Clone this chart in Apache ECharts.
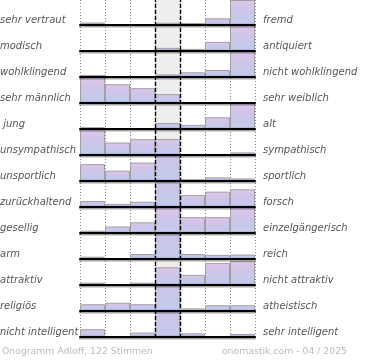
<!DOCTYPE html>
<html>
<head>
<meta charset="utf-8">
<script src="https://cdn.jsdelivr.net/npm/echarts@6/dist/echarts.min.js"></script>
<style>
html,body{margin:0;padding:0;background:#fff;}
#chart{width:370px;height:360px;}
</style>
</head>
<body>
<div id="chart"></div>
<script>
// ---- data ----
const leftLabels = ['sehr vertraut','modisch','wohlklingend','sehr männlich',' jung','unsympathisch','unsportlich','zurückhaltend','gesellig','arm','attraktiv','religiös','nicht intelligent'];
const rightLabels = ['fremd','antiquiert','nicht wohlklingend','sehr weiblich','alt','sympathisch','sportlich','forsch','einzelgängerisch','reich','nicht attraktiv','atheistisch','sehr intelligent'];
const steps = ['1','2','3','4','5','6','7'];
// bar heights in % of row height (values above 100 are cut off at the row top)
const row01 = [10, 3, 3, 9, 8, 27, 100];
const row02 = [1, 1, 1, 12, 8, 35, 100];
const row03 = [8, 1, 1, 10, 18, 27, 100];
const row04 = [100, 72, 57, 34, 0, 0, 0];
const row05 = [7, 1, 1, 23, 16, 45, 100];
const row06 = [100, 48, 61, 61, 4, 4, 10];
const row07 = [65, 40, 71, 160, 7, 14, 10];
const row08 = [23, 12, 20, 170, 46, 59, 68];
const row09 = [9, 25, 41, 100, 61, 61, 100];
const row10 = [9, 1, 19, 180, 19, 16, 17];
const row11 = [9, 1, 9, 68, 39, 85, 92];
const row12 = [26, 32, 26, 170, 10, 22, 22];
const row13 = [30, 4, 17, 190, 14, 4, 12];
const rows = [row01,row02,row03,row04,row05,row06,row07,row08,row09,row10,row11,row12,row13];
const footLeft = 'Onogramm Adloff, 122 Stimmen';
const footRight = 'onomastik.com - 04 / 2025';

// ---- layout / style ----
const ROW_H = 26, TOP0 = -1, LEFT = 80, WIDTH = 175;
const STOPS = [[0,[224,197,232]],[0.5,[205,197,233]],[1,[194,202,235]]];
function colAt(t){
  for(let i=1;i<STOPS.length;i++){
    if(t<=STOPS[i][0]){
      const a=STOPS[i-1], b=STOPS[i];
      const k=(t-a[0])/(b[0]-a[0]);
      const c=a[1].map((v,j)=>Math.round(v+(b[1][j]-v)*k));
      return 'rgb('+c.join(',')+')';
    }
  }
  return 'rgb('+STOPS[STOPS.length-1][1].join(',')+')';
}
function barColor(v){
  const f = Math.min(1, 100/Math.max(v,1e-6));
  const t0 = 1-f;
  const hpx = Math.max(1, Math.min(v,100)/100*ROW_H);
  const band = Math.min(0.9, 2.5/hpx);
  return {type:'linear',x:0,y:0,x2:0,y2:1,colorStops:[
    {offset:0,color:colAt(t0)},
    {offset:Math.max(0,(1-band)*0.5),color:colAt(t0+f*0.5)},
    {offset:1-band,color:colAt(1)},
    {offset:1,color:'#9e8fcc'}
  ]};
}

const grid=[], xAxis=[], yAxis=[], series=[], graphic=[];
// background grid: column guides and neutral column
grid.push({left:LEFT,width:WIDTH,top:TOP0,height:ROW_H*13+1});
xAxis.push({type:'value',gridIndex:0,min:0,max:7,interval:1,show:true,
  axisLine:{show:false},axisTick:{show:false},axisLabel:{show:false},
  splitLine:{show:true,lineStyle:{color:'#8a8a8a',type:[1,2],width:1}},
  splitArea:{show:true,areaStyle:{color:['rgba(0,0,0,0)','rgba(0,0,0,0)','rgba(0,0,0,0)','#eeeeee','rgba(0,0,0,0)','rgba(0,0,0,0)','rgba(0,0,0,0)']}}
});
yAxis.push({type:'value',gridIndex:0,min:0,max:1,show:false});
series.push({type:'line',xAxisIndex:0,yAxisIndex:0,data:[[0,0]],symbolSize:0,lineStyle:{opacity:0},z:10,silent:true,
  markLine:{silent:true,symbol:['none','none'],z:10,label:{show:false},
    lineStyle:{color:'#000',type:[4,2],width:1.4},
    data:[{xAxis:3},{xAxis:4}]}
});

rows.forEach((vals,i)=>{
  const gi=i+1;
  const top=TOP0+i*ROW_H;
  grid.push({left:LEFT,width:WIDTH,top:top,height:ROW_H});
  xAxis.push({type:'category',gridIndex:gi,data:steps,z:5,
    axisLine:{show:true,lineStyle:{color:'#000',width:2,shadowColor:'rgba(0,0,0,0.35)',shadowOffsetY:1.5}},
    axisTick:{show:false},axisLabel:{show:false},splitLine:{show:false}});
  yAxis.push({type:'value',gridIndex:gi,min:0,max:100,show:false});
  series.push({type:'bar',xAxisIndex:gi,yAxisIndex:gi,barCategoryGap:'0%',z:2,silent:true,
    data:vals.map(v=>({value:v,itemStyle:{color:barColor(v)}})),
    itemStyle:{borderColor:'#a0a0a0',borderWidth:1}
  });
  const base=top+ROW_H;
  graphic.push({type:'text',x:0,y:base-5,silent:true,style:{text:leftLabels[i],x:0,y:0,fill:'#555',fontSize:10,fontStyle:'italic',fontFamily:'DejaVu Sans',verticalAlign:'middle',align:'left'}});
  graphic.push({type:'text',x:263,y:base-5,silent:true,style:{text:rightLabels[i],x:0,y:0,fill:'#555',fontSize:10,fontStyle:'italic',fontFamily:'DejaVu Sans',verticalAlign:'middle',align:'left'}});
});
graphic.push({type:'text',x:2,y:352,silent:true,style:{text:footLeft,x:0,y:0,fill:'#bbbbbb',fontSize:9.3,fontFamily:'DejaVu Sans',verticalAlign:'middle',align:'left'}});
graphic.push({type:'text',x:347,y:352,silent:true,style:{text:footRight,x:0,y:0,fill:'#bbbbbb',fontSize:9.3,fontFamily:'DejaVu Sans',verticalAlign:'middle',align:'right'}});

const chart=echarts.init(document.getElementById('chart'),null,{renderer:'canvas'});
chart.setOption({animation:false,backgroundColor:'#fff',grid,xAxis,yAxis,series,graphic});
</script>
</body>
</html>
